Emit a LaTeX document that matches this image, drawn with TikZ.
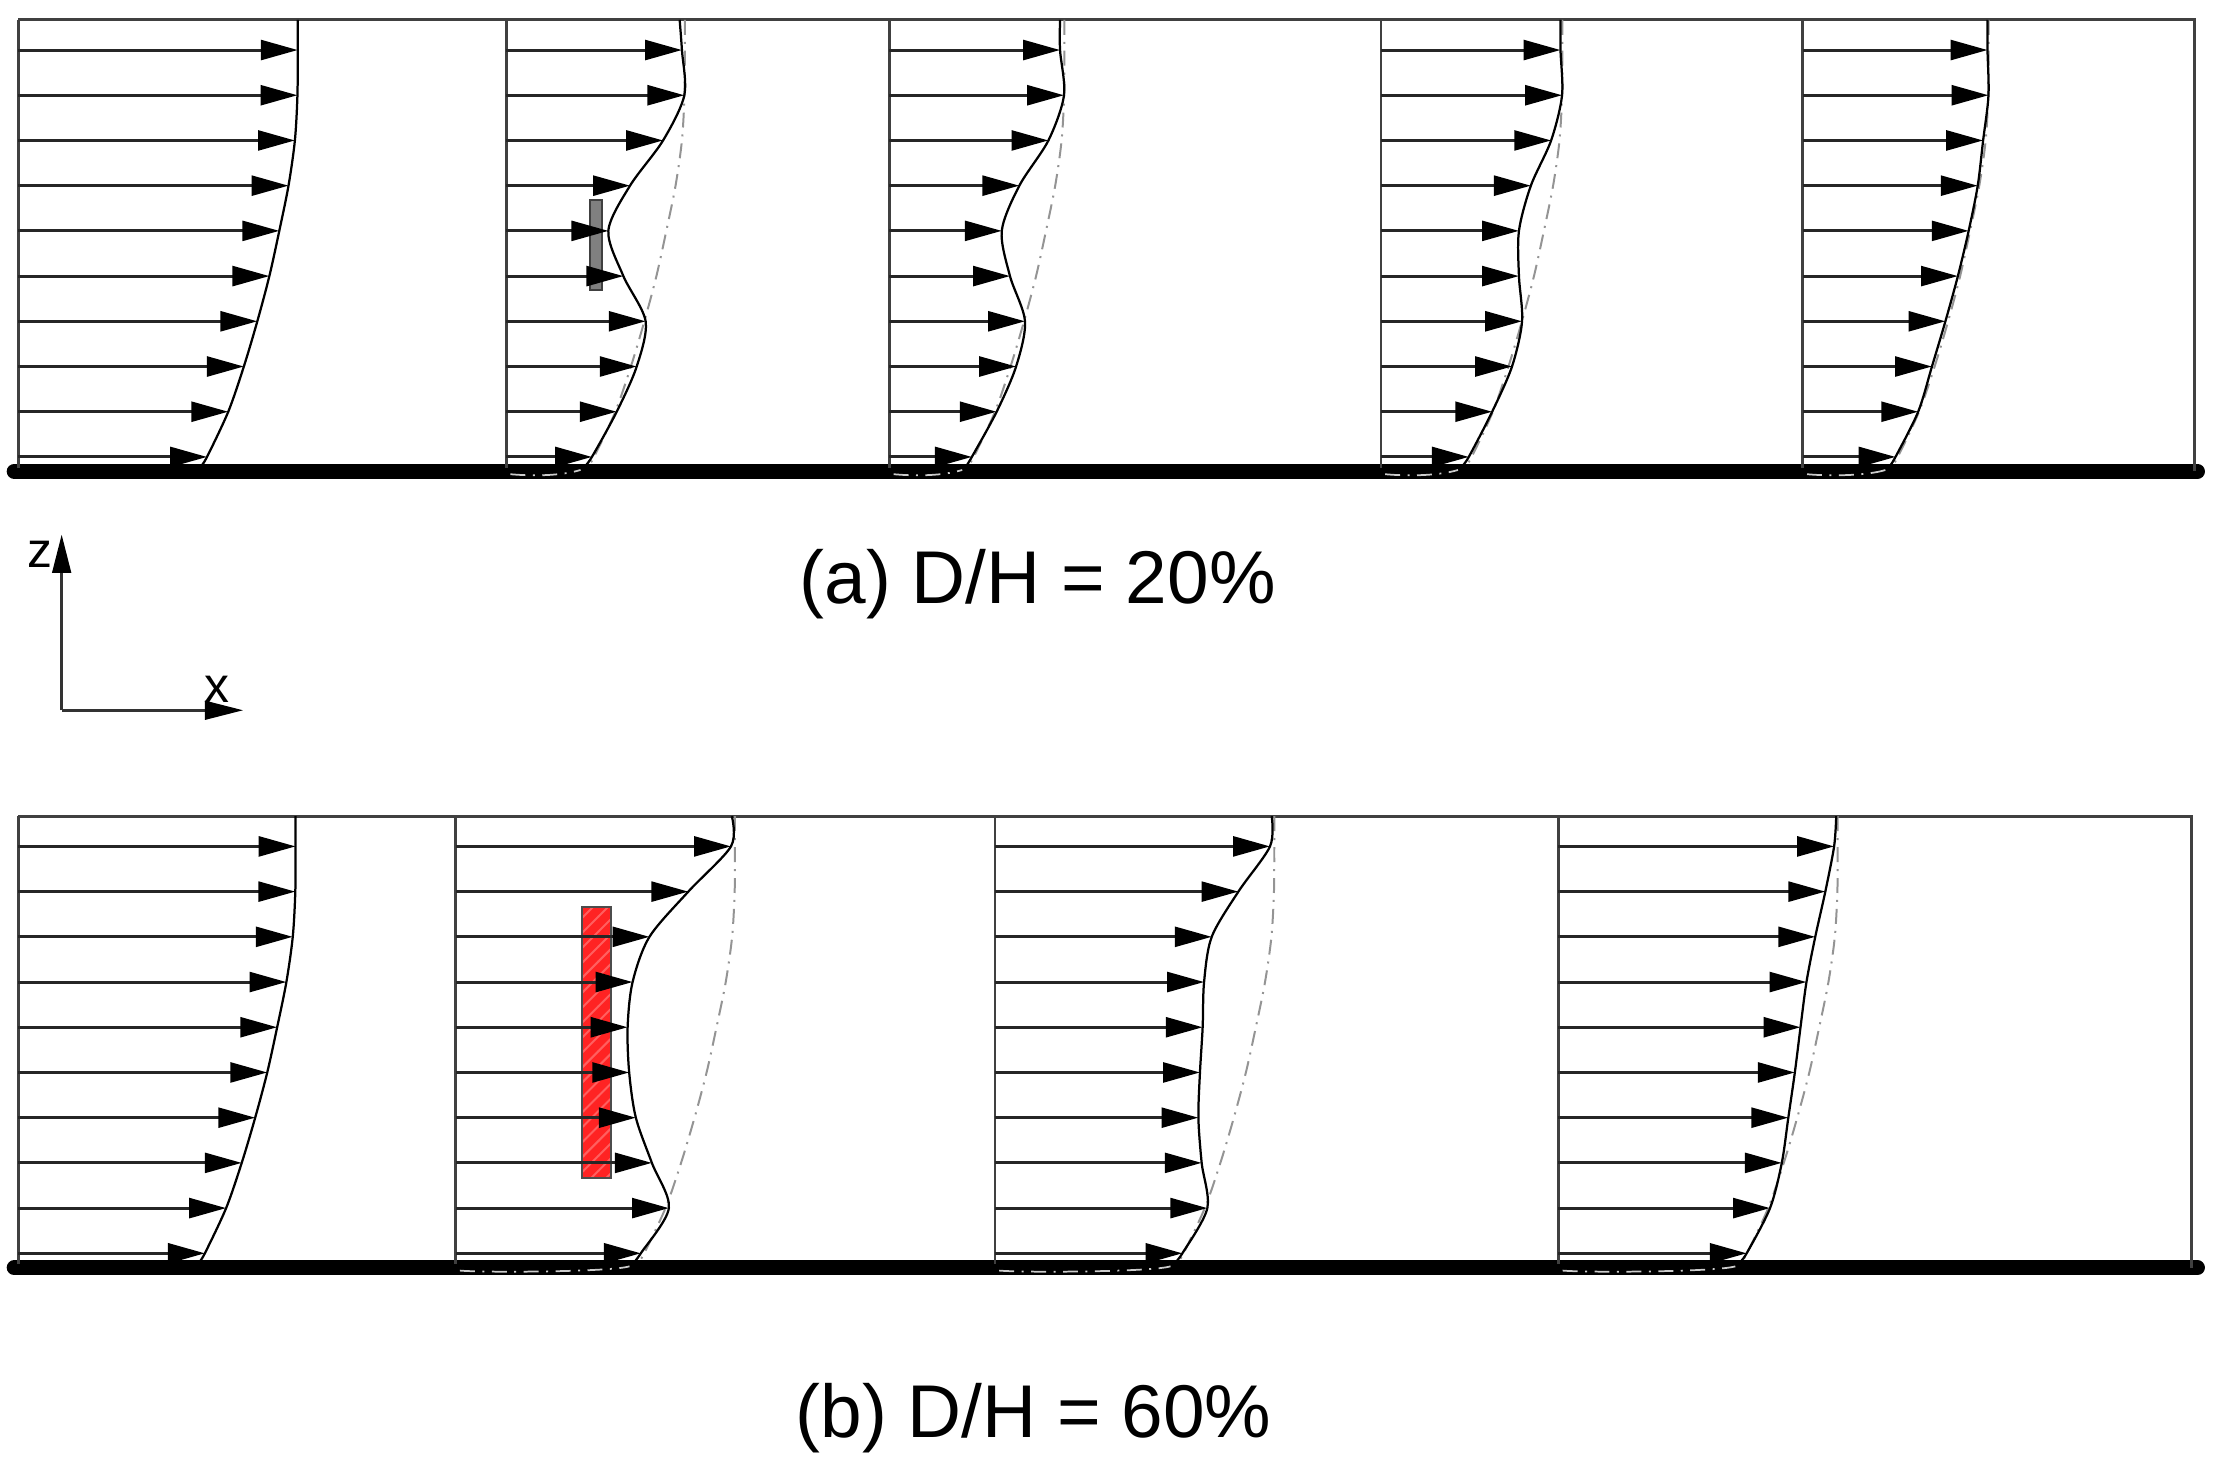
\documentclass[tikz,border=0pt]{standalone}
\usepackage{fontspec}
\setmainfont{Liberation Sans}
\usetikzlibrary{arrows.meta,patterns}
\definecolor{rotorred}{RGB}{255,35,35}
\definecolor{hatchred}{RGB}{255,95,95}
\tikzset{
  frame/.style={draw=black!75, line width=0.55pt},
  groundline/.style={draw=black, line width=3pt, line cap=round},
  vel/.style={draw=black!85, line width=0.6pt, -{Triangle[length=0.26cm,width=0.14cm,color=black]}},
  prof/.style={draw=black, line width=0.45pt},
  refc/.style={draw=black!42, line width=0.4pt, dash pattern=on 3pt off 1.4pt on 0.4pt off 1.4pt},
  subc/.style={draw=black!20, line width=0.35pt, dash pattern=on 3pt off 1.5pt on 0.4pt off 1.5pt},
  axisarrow/.style={draw=black!80, line width=0.65pt, -{Triangle[length=0.27cm,width=0.13cm,color=black]}},
  captext/.style={inner sep=0pt, font=\fontsize{15}{18}\selectfont},
  axlab/.style={inner sep=0pt, font=\fontsize{10}{12}\selectfont},
}
\newcommand\Lvals{197,196.8,195,190.5,184,177,168.5,159,148,133}
% reference (undisturbed) dash-dot profile
\newcommand\refline[4]{%
  \coordinate (#1-r0) at ({#2+197},14);
  \foreach \l [count=\i] in \Lvals {\coordinate (#1-r\i) at ({#2+\l},{35.3+(\i-1)*31.89});}
  \coordinate (#1-r11) at ({#2+128},330);
  \draw[refc] plot[smooth] coordinates {(#1-r0) (#1-r1) (#1-r2) (#1-r3) (#1-r4) (#1-r5) (#1-r6) (#1-r7) (#1-r8) (#1-r9) (#1-r10) (#1-r11)};
  \draw[subc] ({#3+3},334.5) .. controls ({#3+20},336) and ({#4-15},335.5) .. ({#4-2},331.5);
}
% station: vertical line, velocity profile and arrows
\newcommand\station[5]{%
  \draw[frame] (#2,14) -- (#2,330);
  \coordinate (#1-0) at (#3,14);
  \foreach \t [count=\i] in {#4} {\coordinate (#1-\i) at (\t,{35.3+(\i-1)*31.89});}
  \coordinate (#1-11) at (#5,330);
  \draw[prof] plot[smooth] coordinates {(#1-0) (#1-1) (#1-2) (#1-3) (#1-4) (#1-5) (#1-6) (#1-7) (#1-8) (#1-9) (#1-10) (#1-11)};
  \foreach \i in {1,...,10} {\draw[vel] (#2,{35.3+(\i-1)*31.89}) -- (#1-\i);}
}
\begin{document}
\begin{tikzpicture}[x=0.01cm, y=-0.01cm]
\useasboundingbox (0,0) rectangle (1568,1037);

% ---------------- panel (a) ----------------
\draw[groundline] (10,332.5) -- (1550,332.5);
\draw[frame] (13,14) -- (1548,14) -- (1548,332.5);
\filldraw[fill=black!50, draw=black!75, line width=0.4pt] (416,141) rectangle (424.4,204.6);
\refline{a2}{286}{357}{411.5}
\refline{a3}{553.8}{627.3}{680.7}
\refline{a4}{905}{974}{1030.4}
\refline{a5}{1205.6}{1271.6}{1332}
\station{a1}{13}{210}{210,209.8,208,203.5,197,190,181.5,172,161,146}{141}
\station{a2}{357}{479.4}{481,482.7,467.7,444.4,429.1,439.7,455.4,449.1,435,417.5}{411.5}
\station{a3}{627.3}{747.7}{747.7,750.5,739.5,719,706.6,712.4,723,716.7,703,685.5}{680.7}
\station{a4}{974}{1100.7}{1100.7,1101.8,1094.1,1079.8,1071.4,1071.4,1073.6,1066.5,1052.5,1036}{1030.4}
\station{a5}{1271.6}{1401.9}{1401.9,1402.6,1398.8,1395,1388.6,1381,1372.2,1362.7,1353,1337}{1332}

\node[captext] (capa) at (732,412) {(a) D/H = 20\%};

% ---------------- axes ----------------
\coordinate (o) at (43.5,501);
\coordinate (zt) at (43.5,377);
\coordinate (xt) at (171.6,501);
\draw[axisarrow] (o) -- (zt);
\draw[axisarrow] (o) -- (xt);
\node[axlab] (zl) at (28,391) {z};
\node[axlab] (xl) at (153,486) {x};

% ---------------- panel (b) ----------------
\begin{scope}[yshift=-5.614cm]
\draw[groundline] (10,332.5) -- (1550,332.5);
\draw[frame] (13,14) -- (1546,14) -- (1546,332.5);
\fill[rotorred] (410.3,78.1) rectangle (430.8,269.1);
\fill[pattern=north east lines, pattern color=hatchred] (410.3,78.1) rectangle (430.8,269.1);
\draw[black!70, line width=0.45pt] (410.3,78.1) rectangle (430.8,269.1);
\refline{b2}{321.4}{321.4}{446}
\refline{b3}{701.8}{701.8}{827.6}
\refline{b4}{1099.2}{1099.2}{1226}
\station{b1}{13}{208.5}{208.5,208.3,206.5,202,195.5,188.5,180,170.5,159.5,144.5}{139.5}
\station{b2}{321.4}{516.2}{515.6,485.5,458.1,446.2,442.7,443.8,448.5,459.8,471.8,452}{446}
\station{b3}{701.8}{897}{895.8,873.5,854.7,849.3,848.3,846.4,845.3,847.6,851.6,834}{827.6}
\station{b4}{1099.2}{1295.2}{1293.7,1287.5,1280.4,1274.2,1270,1266,1261.4,1256.8,1248.5,1232}{1226}
\end{scope}

\node[captext] (capb) at (729,1000) {(b) D/H = 60\%};
\end{tikzpicture}
\end{document}
